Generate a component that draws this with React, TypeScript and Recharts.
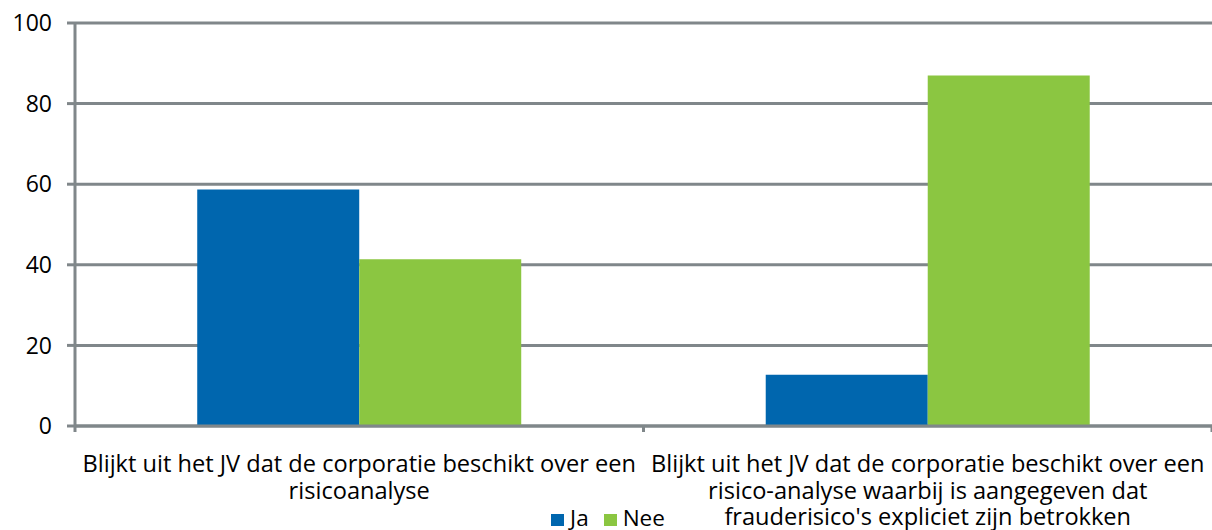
import React from "react";
import { BarChart, Bar, XAxis, YAxis, CartesianGrid, Legend } from "recharts";

// categories use "\n" where the original label breaks
const categories = [
  "Blijkt uit het JV dat de corporatie beschikt over een\nrisicoanalyse",
  "Blijkt uit het JV dat de corporatie beschikt over een\nrisico-analyse waarbij is aangegeven dat\nfrauderisico's expliciet zijn betrokken",
];
const jaValues = [58.7, 12.7];
const neeValues = [41.4, 87.0];
const yTicks = [0, 20, 40, 60, 80, 100];

const seriesNames = ["Ja", "Nee"];
const seriesColors = ["#0066AE", "#8BC641"];

const WIDTH = 1212;
const HEIGHT = 530;
const Y_AXIS_WIDTH = 75;
const GRAY = "#80878A";
const FONT = "'Open Sans', Lato, sans-serif";

const data = categories.map((label, i) => ({
  label,
  Ja: jaValues[i],
  Nee: neeValues[i],
}));

const CategoryTick = (props: any) => {
  const { x, y, payload, index } = props;
  const half = (WIDTH - Y_AXIS_WIDTH) / categories.length / 2;
  const lines = String(payload.value).split("\n");
  return (
    <g>
      <line x1={x - half} x2={x - half} y1={y} y2={y + 6} stroke={GRAY} strokeWidth={3} />
      {index === categories.length - 1 && (
        <line x1={x + half} x2={x + half} y1={y} y2={y + 6} stroke={GRAY} strokeWidth={3} />
      )}
      <text
        x={x}
        y={y + 46}
        textAnchor="middle"
        fontSize={23.6}
        fill="#000"
        fontFamily={FONT}
      >
        {lines.map((line, i) => (
          <tspan key={i} x={x} dy={i === 0 ? 0 : 26.5}>
            {line}
          </tspan>
        ))}
      </text>
    </g>
  );
};

const renderLegend = () => (
  <div
    style={{
      height: 24,
      paddingTop: 0,
      boxSizing: "border-box",
      display: "flex",
      justifyContent: "center",
      paddingLeft: 4,
      fontFamily: FONT,
      fontSize: 22.5,
      lineHeight: "23px",
      color: "#000",
    }}
  >
    {seriesNames.map((name, i) => (
      <span key={name} style={{ marginRight: i === 0 ? 15 : 0, whiteSpace: "nowrap" }}>
        <span
          style={{
            display: "inline-block",
            width: 13,
            height: 12,
            background: seriesColors[i],
            marginRight: 6,
          }}
        />
        {name}
      </span>
    ))}
  </div>
);

export default function App() {
  return (
    <div style={{ position: "absolute", left: 0, top: 0, width: WIDTH, height: HEIGHT, overflow: "hidden" }}>
      <BarChart
        width={WIDTH}
        height={HEIGHT}
        data={data}
        margin={{ top: 23, right: 0, left: 0, bottom: 0 }}
        barCategoryGap="21.5%"
        barGap={0}
      >
        <CartesianGrid vertical={false} stroke={GRAY} strokeWidth={3} />
        <XAxis
          dataKey="label"
          height={80}
          tickSize={0}
          tickMargin={0}
          tickLine={false}
          axisLine={{ stroke: GRAY, strokeWidth: 3 }}
          tick={<CategoryTick />}
          interval={0}
        />
        <YAxis
          width={Y_AXIS_WIDTH}
          domain={[0, 100]}
          ticks={yTicks}
          tickSize={8}
          tickMargin={15}
          tickLine={{ stroke: GRAY, strokeWidth: 3 }}
          axisLine={{ stroke: GRAY, strokeWidth: 3 }}
          tick={{ fontSize: 23, fill: "#000", fontFamily: FONT }}
        />
        <Legend verticalAlign="bottom" content={renderLegend} />
        <Bar dataKey="Ja" fill={seriesColors[0]} isAnimationActive={false} />
        <Bar dataKey="Nee" fill={seriesColors[1]} isAnimationActive={false} />
      </BarChart>
    </div>
  );
}
